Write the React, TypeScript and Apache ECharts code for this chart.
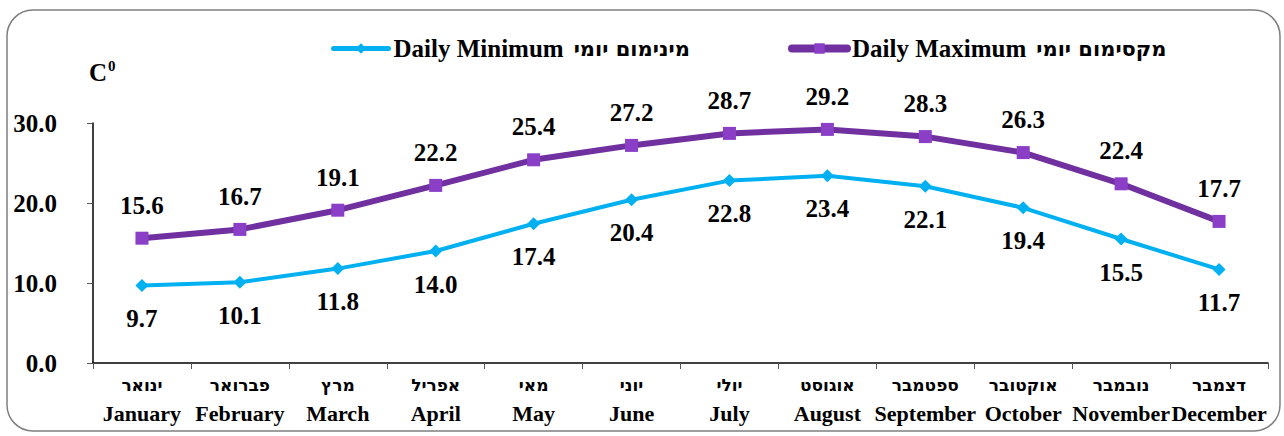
import React, { useEffect, useRef } from "react";
import * as echarts from "echarts";

const monthsHe = ["ינואר", "פברואר", "מרץ", "אפריל", "מאי", "יוני", "יולי", "אוגוסט", "ספטמבר", "אוקטובר", "נובמבר", "דצמבר"];
const monthsEn = ["January", "February", "March", "April", "May", "June", "July", "August", "September", "October", "November", "December"];
const dailyMin = [9.7, 10.1, 11.8, 14.0, 17.4, 20.4, 22.8, 23.4, 22.1, 19.4, 15.5, 11.7];
const dailyMax = [15.6, 16.7, 19.1, 22.2, 25.4, 27.2, 28.7, 29.2, 28.3, 26.3, 22.4, 17.7];
const minEn = "Daily Minimum";
const minHe = "מינימום יומי";
const maxEn = "Daily Maximum";
const maxHe = "מקסימום יומי";

const FONT = "Liberation Serif, serif";
const HEB = "DejaVu Sans, sans-serif";

export default function App() {
  const ref = useRef<HTMLDivElement>(null);
  useEffect(() => {
    const chart = echarts.init(ref.current!, undefined, { renderer: "svg" });
    const categories = monthsEn.map((en, i) => `{he|${monthsHe[i]}}\n{en|${en}}`);
    const minName = `${minEn} ${minHe}`;
    const maxName = `${maxEn} ${maxHe}`;
    const legendText = {
      fontFamily: FONT,
      fontWeight: "bold",
      fontSize: 25,
      color: "#000",
      rich: {
        en: { fontFamily: FONT, fontWeight: "bold", fontSize: 25, color: "#000" },
        he: { fontFamily: HEB, fontWeight: "bold", fontSize: 21, color: "#000", padding: [0, 0, 0, 10] },
      },
    };
    const legendFormatter = (name: string) =>
      name === minName ? `{en|${minEn}}{he|${minHe}}` : `{en|${maxEn}}{he|${maxHe}}`;
    chart.setOption({
      animation: false,
      backgroundColor: "#fff",
      textStyle: { fontFamily: FONT },
      graphic: [
        {
          type: "rect",
          shape: { x: 7, y: 10, width: 1273, height: 421, r: 26 },
          style: { fill: "none", stroke: "#7f7f7f", lineWidth: 1.5 },
          z: -1,
        },
        {
          type: "text",
          left: 89,
          top: 58,
          style: {
            text: "{c|C}{s|0}",
            rich: {
              c: { fontFamily: FONT, fontWeight: "bold", fontSize: 25, fill: "#000", verticalAlign: "bottom" },
              s: { fontFamily: FONT, fontWeight: "bold", fontSize: 15, fill: "#000", padding: [0, 0, 12, 1] },
            },
          },
        },
      ],
      legend: [
        {
          data: [minName],
          left: 326,
          top: 31,
          itemWidth: 55,
          itemHeight: 13,
          itemGap: 0,
          formatter: legendFormatter,
          textStyle: legendText,
          lineStyle: { width: 5, cap: "round" },
        },
        {
          data: [maxName],
          left: 783,
          top: 31,
          itemWidth: 55,
          itemHeight: 13,
          itemGap: 0,
          formatter: legendFormatter,
          textStyle: legendText,
          lineStyle: { width: 8, cap: "round" },
        },
      ],
      grid: { left: 93, right: 16, top: 123, bottom: 73, containLabel: false },
      xAxis: {
        type: "category",
        data: categories,
        boundaryGap: true,
        axisLine: { lineStyle: { color: "#000", width: 1.5 } },
        axisTick: { show: true, length: 6, lineStyle: { color: "#555" }, alignWithLabel: false },
        axisLabel: {
          interval: 0,
          margin: 7,
          lineHeight: 29,
          rich: {
            he: { fontFamily: HEB, fontWeight: "bold", fontSize: 17, color: "#000", lineHeight: 29 },
            en: { fontFamily: FONT, fontWeight: "bold", fontSize: 22, color: "#000", lineHeight: 29 },
          },
        },
      },
      yAxis: {
        type: "value",
        min: 0,
        max: 30,
        interval: 10,
        splitLine: { show: false },
        axisLine: { show: true, lineStyle: { color: "#000", width: 1.5 } },
        axisTick: { show: true, length: 6, lineStyle: { color: "#555" } },
        axisLabel: {
          margin: 36,
          align: "right",
          fontFamily: FONT,
          fontWeight: "bold",
          fontSize: 25,
          color: "#000",
          formatter: (v: number) => v.toFixed(1),
        },
      },
      series: [
        {
          name: minName,
          type: "line",
          data: dailyMin,
          symbol: "diamond",
          symbolSize: 13,
          lineStyle: { color: "#00B0F0", width: 4 },
          itemStyle: { color: "#00B0F0" },
          label: {
            show: true,
            position: "bottom",
            distance: 14,
            fontFamily: FONT,
            fontWeight: "bold",
            fontSize: 25,
            color: "#000",
            formatter: (p: any) => Number(p.value).toFixed(1),
          },
        },
        {
          name: maxName,
          type: "line",
          data: dailyMax,
          symbol: "rect",
          symbolSize: 13,
          lineStyle: { color: "#7030A0", width: 6 },
          itemStyle: { color: "#8B3FC6" },
          label: {
            show: true,
            position: "top",
            distance: 14,
            fontFamily: FONT,
            fontWeight: "bold",
            fontSize: 25,
            color: "#000",
            formatter: (p: any) => Number(p.value).toFixed(1),
          },
        },
      ],
    });
    return () => chart.dispose();
  }, []);
  return <div ref={ref} style={{ position: "absolute", left: 0, top: 0, width: 1284, height: 436 }} />;
}
